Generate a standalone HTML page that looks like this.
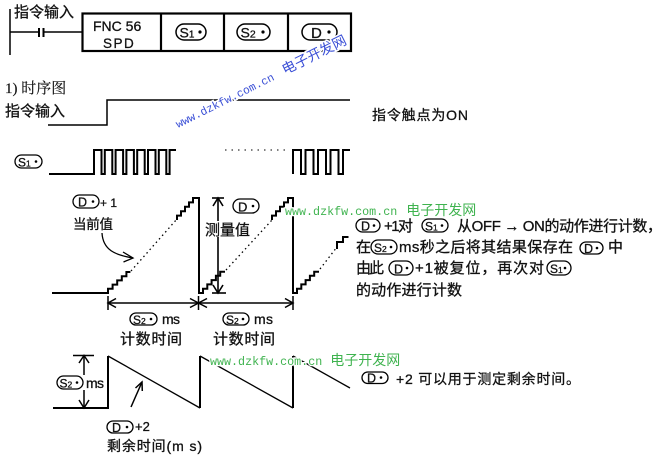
<!DOCTYPE html>
<html><head><meta charset="utf-8"><style>
html,body{margin:0;padding:0;background:#fff;}
svg{display:block;}
text{font-family:"Liberation Sans","Noto Sans CJK SC",sans-serif;fill:#111;stroke:#111;stroke-width:0.3;}
.ser{font-family:"Liberation Serif","Noto Serif CJK SC",serif;stroke-width:0.15;}
.wm{font-family:"Liberation Mono",monospace;}
.wmc{font-family:"Liberation Sans","Noto Sans CJK SC",sans-serif;}
</style></head><body>
<svg width="666" height="460" viewBox="0 0 666 460" xmlns="http://www.w3.org/2000/svg">
<rect width="666" height="460" fill="#fff"/>

<!-- Ladder -->
<g stroke="#000" fill="none">
<line x1="10" y1="9" x2="10" y2="55" stroke-width="1.5"/>
<line x1="10" y1="32" x2="39" y2="32" stroke-width="1.5"/>
<line x1="43.5" y1="32" x2="82" y2="32" stroke-width="1.5"/>
<line x1="39" y1="28" x2="39" y2="37" stroke-width="2"/>
<line x1="43.5" y1="28" x2="43.5" y2="37" stroke-width="2"/>
<rect x="82.5" y="13.5" width="268.5" height="37.5" stroke-width="2.2"/>
<line x1="161" y1="13.5" x2="161" y2="51" stroke-width="2.2"/>
<line x1="224" y1="13.5" x2="224" y2="51" stroke-width="2.2"/>
<line x1="288" y1="13.5" x2="288" y2="51" stroke-width="2.2"/>
</g>
<text x="14" y="17" font-size="15">指令输入</text>
<text x="93" y="31" font-size="14">FNC 56</text>
<text x="103" y="48" font-size="13.5" letter-spacing="1.5">SPD</text>

<!-- top pills -->
<rect x="176" y="24" width="30" height="16" rx="8" fill="#fff" stroke="#000" stroke-width="1.5"/>
<text x="179.5" y="37.5" font-size="14">S<tspan font-size="10">1</tspan></text>
<circle cx="200" cy="32" r="1.6" fill="#000"/>
<rect x="237" y="24" width="33" height="16" rx="8" fill="#fff" stroke="#000" stroke-width="1.5"/>
<text x="240.5" y="37.5" font-size="14">S<tspan font-size="10.5">2</tspan></text>
<circle cx="263" cy="32" r="1.6" fill="#000"/>
<rect x="302" y="24" width="35" height="16" rx="8" fill="#fff" stroke="#000" stroke-width="1.5"/>
<text x="311" y="38" font-size="15">D</text>
<circle cx="329" cy="32" r="1.6" fill="#000"/>

<!-- timing section -->
<text x="5" y="93" font-size="15" class="ser">1) 时序图</text>
<text x="5" y="116" font-size="15">指令输入</text>
<path d="M48 125 H107 V100 H350" fill="none" stroke="#000" stroke-width="1.5"/>
<text x="372" y="120" font-size="14" textLength="96">指令触点为ON</text>

<!-- S1 pulse row -->
<rect x="15" y="155" width="27" height="13" rx="6.5" fill="#fff" stroke="#000" stroke-width="1.3"/>
<text x="18" y="166.5" font-size="12">S<tspan font-size="8.5">1</tspan></text>
<circle cx="36" cy="161.5" r="1.3" fill="#000"/>
<path d="M49 174 H94 V150 H101.5 V174 H104.8 V150 H112.3 V174 H115.6 V150 H123.1 V174 H126.4 V150 H133.9 V174 H137.2 V150 H144.7 V174 H148 V150 H155.5 V174 H158.8 V150 H166.3 V174 H169.6 V150 H176" fill="none" stroke="#000" stroke-width="2"/>
<line x1="225" y1="150" x2="290" y2="150" stroke="#000" stroke-width="1" stroke-dasharray="1.5 5"/>
<path d="M293 174 V150 H301 V174 H305.5 V150 H313.5 V174 H318 V150 H326 V174 H330.5 V150 H338.5 V174 H343 V150 H350" fill="none" stroke="#000" stroke-width="2"/>

<!-- staircase -->
<g fill="none" stroke="#000" stroke-width="2">
<path d="M52 293 H108 v-4.2 h4.6 v-4.2 h4.6 v-4.2 h4.6 v-4.2 h4.6 v-4.2 h4"/>
<path d="M177 220 v-4.4 h4 v-4.4 h4 v-4.4 h4 v-4.4 h4 V198 H199 V293 H203 v-4.3 h4.3 v-4.3 h4.3 v-4.3 h4.3 v-4.3 h4.3 V271.8 H225"/>
<path d="M272 220 v-4.4 h4 v-4.4 h4 v-4.4 h4 v-4.4 h4 V198 H293 V293 H297 v-4.3 h4.3 v-4.3 h4.3 v-4.3 h4.3 v-4.3 h4.3 V271.8 H319"/>
<path d="M337 249 V242 H343 V237 H348.5"/>
</g>
<g stroke="#000" stroke-width="1.3" stroke-dasharray="1.5 3.2" fill="none">
<line x1="131" y1="271" x2="177" y2="219"/>
<line x1="226" y1="270" x2="272" y2="220"/>
<line x1="320" y1="269" x2="337" y2="247"/>
</g>

<!-- 当前值 -->
<rect x="73" y="195" width="26" height="13" rx="6.5" fill="#fff" stroke="#000" stroke-width="1.3"/>
<text x="78" y="206.5" font-size="12.5">D</text>
<circle cx="93" cy="201.5" r="1.3" fill="#000"/>
<text x="100" y="207" font-size="12">+ 1</text>
<text x="73" y="229" font-size="13.5" textLength="40">当前值</text>
<path d="M102 233 C103 250 115 255 133 258" fill="none" stroke="#000" stroke-width="1.3"/>
<path d="M123 252 L133 258 L123.5 262" fill="none" stroke="#000" stroke-width="1.3"/>

<!-- measurement -->
<g stroke="#000" fill="none" stroke-width="1.6">
<line x1="218" y1="198" x2="218" y2="293"/>
<line x1="212" y1="198" x2="224" y2="198"/>
<line x1="212" y1="293" x2="226" y2="293"/>
<path d="M213 206 L218 198 L223 206"/>
<path d="M213 285 L218 293 L223 285"/>
</g>
<rect x="204" y="221" width="47" height="16" fill="#fff"/>
<text x="205" y="235" font-size="15">测量值</text>
<rect x="233" y="199" width="26" height="14" rx="7" fill="#fff" stroke="#000" stroke-width="1.3"/>
<text x="238" y="211.5" font-size="13">D</text>
<circle cx="253" cy="206" r="1.3" fill="#000"/>

<!-- horizontal dimensions -->
<g stroke="#000" fill="none" stroke-width="1.5">
<line x1="108" y1="303" x2="293" y2="303"/>
<line x1="108" y1="296" x2="108" y2="310"/>
<line x1="198.5" y1="296" x2="198.5" y2="310"/>
<line x1="293" y1="296" x2="293" y2="310"/>
<path d="M116 298.5 L108 303 L116 307.5"/>
<path d="M190 298.5 L198.5 303 L190 307.5"/>
<path d="M207 298.5 L198.5 303 L207 307.5"/>
<path d="M285 298.5 L293 303 L285 307.5"/>
</g>
<rect x="130" y="313" width="27" height="12" rx="6" fill="#fff" stroke="#000" stroke-width="1.3"/>
<text x="133" y="324" font-size="12">S<tspan font-size="8.5">2</tspan></text>
<circle cx="151" cy="319" r="1.3" fill="#000"/>
<text x="162" y="324" font-size="14" textLength="18">ms</text>
<text x="120" y="344" font-size="15" textLength="62">计数时间</text>
<rect x="223" y="313" width="26" height="12" rx="6" fill="#fff" stroke="#000" stroke-width="1.3"/>
<text x="226" y="324" font-size="12">S<tspan font-size="8.5">2</tspan></text>
<circle cx="243" cy="319" r="1.3" fill="#000"/>
<text x="254" y="324" font-size="14" textLength="19">ms</text>
<text x="213" y="344" font-size="15" textLength="62">计数时间</text>

<!-- sawtooth -->
<path d="M53 408 H108 V356" fill="none" stroke="#000" stroke-width="2"/>
<line x1="200" y1="356" x2="200" y2="408" stroke="#000" stroke-width="2"/>
<line x1="293" y1="356" x2="293" y2="408" stroke="#000" stroke-width="2"/>
<g stroke="#000" stroke-width="1.3" fill="none">
<line x1="108" y1="356" x2="200" y2="408"/>
<line x1="200" y1="356" x2="293" y2="408"/>
<line x1="293" y1="356" x2="350" y2="388"/>
</g>
<g stroke="#000" fill="none" stroke-width="1.5">
<line x1="73" y1="355.5" x2="94" y2="355.5"/>
<line x1="84" y1="355.5" x2="84" y2="375"/>
<line x1="84" y1="390" x2="84" y2="408"/>
<path d="M79 363 L84 355.5 L89 363"/>
<path d="M79 400 L84 408 L89 400"/>
<line x1="131" y1="407" x2="142" y2="382"/>
<path d="M135.5 388 L142 382 L142.3 391"/>
</g>
<rect x="57" y="376" width="26" height="13" rx="6.5" fill="#fff" stroke="#000" stroke-width="1.3"/>
<text x="59.5" y="387.5" font-size="12">S<tspan font-size="8.5">2</tspan></text>
<circle cx="77" cy="382.5" r="1.3" fill="#000"/>
<text x="86" y="388" font-size="14" textLength="18">ms</text>

<rect x="107" y="421" width="26" height="12" rx="6" fill="#fff" stroke="#000" stroke-width="1.3"/>
<text x="112" y="432" font-size="12.5">D</text>
<circle cx="127" cy="427" r="1.3" fill="#000"/>
<text x="135" y="431" font-size="13">+2</text>
<text x="107" y="451" font-size="14" textLength="95">剩余时间(m s)</text>

<rect x="362" y="372" width="26" height="11.5" rx="5.75" fill="#fff" stroke="#000" stroke-width="1.3"/>
<text x="367" y="382.5" font-size="12.5">D</text>
<circle cx="381" cy="377.5" r="1.3" fill="#000"/>
<text x="396" y="384" font-size="14" textLength="184">+2 可以用于测定剩余时间。</text>

<!-- right explanation block -->
<rect x="356" y="219" width="24" height="13" rx="6.5" fill="#fff" stroke="#000" stroke-width="1.3"/>
<text x="361" y="230.5" font-size="12.5">D</text>
<circle cx="374" cy="225.5" r="1.3" fill="#000"/>
<text x="384" y="231" font-size="15" textLength="29">+1对</text>
<rect x="422" y="219" width="26" height="13" rx="6.5" fill="#fff" stroke="#000" stroke-width="1.3"/>
<text x="425" y="230.5" font-size="12">S<tspan font-size="8.5">1</tspan></text>
<circle cx="442" cy="225.5" r="1.3" fill="#000"/>
<text x="457" y="231" font-size="15" textLength="205">从OFF → ON的动作进行计数，</text>

<text x="356" y="252" font-size="15">在</text>
<rect x="371" y="240" width="26" height="14" rx="7" fill="#fff" stroke="#000" stroke-width="1.3"/>
<text x="374" y="252" font-size="12">S<tspan font-size="8.5">2</tspan></text>
<circle cx="391" cy="247" r="1.3" fill="#000"/>
<text x="399" y="252" font-size="15" textLength="174">ms秒之后将其结果保存在</text>
<rect x="580" y="242" width="23" height="12" rx="6" fill="#fff" stroke="#000" stroke-width="1.3"/>
<text x="584" y="253" font-size="12.5">D</text>
<circle cx="597" cy="248" r="1.3" fill="#000"/>
<text x="608" y="252" font-size="15">中</text>

<text x="356" y="273" font-size="15" textLength="28">由此</text>
<rect x="389" y="261" width="24" height="14" rx="7" fill="#fff" stroke="#000" stroke-width="1.3"/>
<text x="394" y="273.5" font-size="12.5">D</text>
<circle cx="407" cy="268" r="1.3" fill="#000"/>
<text x="415" y="273" font-size="15" textLength="129">+1被复位，再次对</text>
<rect x="547" y="261" width="24" height="14" rx="7" fill="#fff" stroke="#000" stroke-width="1.3"/>
<text x="550" y="273" font-size="12">S<tspan font-size="8.5">1</tspan></text>
<circle cx="565" cy="268" r="1.3" fill="#000"/>

<text x="356" y="295" font-size="15" textLength="106">的动作进行计数</text>

<!-- watermarks -->
<g transform="translate(178,128) rotate(-26.5)">
<text x="0" y="0" style="fill:#3a4fd6;stroke:#fff;stroke-width:3;paint-order:stroke;"><tspan class="wm" font-size="11.3" style="fill:#3a4fd6">www.dzkfw.com.cn</tspan><tspan class="wmc" dx="11" font-size="14" style="fill:#3a4fd6">电子开发网</tspan></text>
</g>
<text x="285" y="215" style="fill:#3fb34f;stroke:#fff;stroke-width:2.5;paint-order:stroke;"><tspan class="wm" font-size="11.7" style="fill:#3fb34f">www.dzkfw.com.cn</tspan><tspan class="wmc" dx="9" font-size="14" style="fill:#3fb34f">电子开发网</tspan></text>
<text x="210" y="365" style="fill:#3fb34f;stroke:#fff;stroke-width:2.5;paint-order:stroke;"><tspan class="wm" font-size="11.7" style="fill:#3fb34f">www.dzkfw.com.cn</tspan><tspan class="wmc" dx="8" font-size="14" style="fill:#3fb34f">电子开发网</tspan></text>
</svg>
</body></html>
